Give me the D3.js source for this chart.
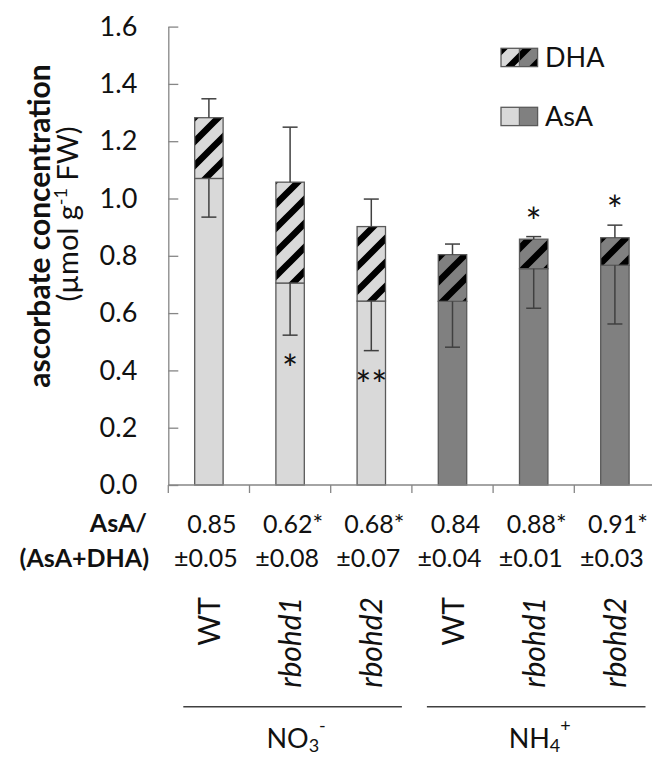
<!DOCTYPE html>
<html><head><meta charset="utf-8">
<script src="https://cdn.jsdelivr.net/npm/d3@7"></script>
<style>
html,body{margin:0;padding:0;background:#fff;}
svg{display:block;font-family:Lato,"Open Sans",sans-serif;}
</style></head>
<body><svg id="chart" width="652" height="758"></svg>
<script>
// ---------- data ----------
const categories = ["WT","rbohd1","rbohd2","WT","rbohd1","rbohd2"];
const italicCat  = [false,true,true,false,true,true];
const groups     = ["NO3-","NH4+"];
const groupOf    = [0,0,0,1,1,1];
const asaValues  = [1.07, 0.705, 0.642, 0.641, 0.755, 0.767];
const dhaValues  = [0.212, 0.352, 0.260, 0.163, 0.103, 0.096];
const asaErrDown = [0.135, 0.182, 0.173, 0.160, 0.138, 0.205];
const totErrUp   = [0.066, 0.192, 0.096, 0.037, 0.009, 0.044];
const ratioMean  = ["0.85","0.62*","0.68*","0.84","0.88*","0.91*"];
const ratioSd    = ["±0.05","±0.08","±0.07","±0.04","±0.01","±0.03"];
const sigBelow   = ["","*","**","","",""];
const sigAbove   = ["","","","","*","*"];
const yTicks     = [0,0.2,0.4,0.6,0.8,1.0,1.2,1.4,1.6];

const lightFill = "#d9d9d9", darkFill = "#808080";
const svg = d3.select("#chart");

const x = d3.scaleBand().domain(d3.range(categories.length)).range([168.3, 655.5]).padding(0);
const y = d3.scaleLinear().domain([0,1.6]).range([485, 26.6]);
const barW = x.bandwidth()*0.35;
const cx = i => x(i) + x.bandwidth()/2;
const fillOf = i => groupOf[i]===0 ? lightFill : darkFill;

// hatch patterns
const defs = svg.append("defs");
[["hatchL",lightFill],["hatchD",darkFill]].forEach(([id,bg])=>{
  const p = defs.append("pattern").attr("id",id).attr("patternUnits","userSpaceOnUse")
    .attr("width",24).attr("height",24);
  p.append("rect").attr("width",24).attr("height",24).attr("fill",bg);
  p.append("path").attr("d","M-6,30L30,-6M-18,18L18,-18M6,42L42,6")
    .attr("stroke","#000").attr("stroke-width",6.5);
});

// axes
const axisCol = "#868686";
const yAxis = d3.axisLeft(y).tickValues(yTicks).tickFormat(d3.format(".1f"))
  .tickSizeInner(-10).tickSizeOuter(0).tickPadding(31);
const gy = svg.append("g").attr("transform","translate(168.3,0)").call(yAxis);
gy.select(".domain").attr("stroke",axisCol).attr("stroke-width",1.3);
gy.selectAll(".tick line").attr("stroke",axisCol).attr("stroke-width",1.3);
gy.selectAll(".tick text").attr("font-size",27).attr("fill","#111").attr("font-family","Lato");

// bars
const bars = svg.append("g");
categories.forEach((c,i)=>{
  const x0 = cx(i)-barW/2;
  bars.append("rect").attr("x",x0).attr("width",barW)
    .attr("y",y(asaValues[i])).attr("height",y(0)-y(asaValues[i]))
    .attr("fill",fillOf(i)).attr("stroke","#5a5a5a").attr("stroke-width",1.3);
  const top = asaValues[i]+dhaValues[i];
  bars.append("rect").attr("x",x0).attr("width",barW)
    .attr("y",y(top)).attr("height",y(asaValues[i])-y(top))
    .attr("fill", groupOf[i]===0 ? "url(#hatchL)" : "url(#hatchD)")
    .attr("stroke","#5a5a5a").attr("stroke-width",1.3);
});

// x axis
const bounds = d3.range(categories.length).map(i=>x(i)).concat([x(categories.length-1)+x.bandwidth()]);
svg.append("line").attr("x1",x.range()[0]).attr("x2",x.range()[1]).attr("y1",y(0)).attr("y2",y(0))
  .attr("stroke",axisCol).attr("stroke-width",1.3);
svg.selectAll(".xt").data(bounds).enter().append("line")
  .attr("x1",d=>d).attr("x2",d=>d).attr("y1",y(0)).attr("y2",y(0)+8)
  .attr("stroke",axisCol).attr("stroke-width",1.3);

// error bars
const eg = svg.append("g").attr("stroke","#404040").attr("stroke-width",1.5);
categories.forEach((c,i)=>{
  const top = asaValues[i]+dhaValues[i];
  const xc = cx(i);
  eg.append("line").attr("x1",xc).attr("x2",xc).attr("y1",y(top)).attr("y2",y(top+totErrUp[i]));
  eg.append("line").attr("x1",xc-7.5).attr("x2",xc+7.5).attr("y1",y(top+totErrUp[i])).attr("y2",y(top+totErrUp[i]));
  const lo = asaValues[i]-asaErrDown[i];
  eg.append("line").attr("x1",xc).attr("x2",xc).attr("y1",y(asaValues[i])).attr("y2",y(lo));
  eg.append("line").attr("x1",xc-7.5).attr("x2",xc+7.5).attr("y1",y(lo)).attr("y2",y(lo));
});

// significance stars
categories.forEach((c,i)=>{
  if (sigBelow[i]) {
    svg.append("text").attr("x",cx(i)).attr("y",y(asaValues[i]-asaErrDown[i])+48)
      .attr("text-anchor","middle").attr("font-size",38).attr("fill","#111")
      .text(sigBelow[i]);
  }
  if (sigAbove[i]) {
    const top = asaValues[i]+dhaValues[i]+totErrUp[i];
    svg.append("text").attr("x",cx(i)).attr("y",y(top)-1)
      .attr("text-anchor","middle").attr("font-size",38).attr("fill","#111").text(sigAbove[i]);
  }
});

// legend
const legend = [["DHA",["url(#hatchL)","url(#hatchD)"]],["AsA",[lightFill,darkFill]]];
legend.forEach((d,k)=>{
  const ly = 48.3 + k*59;
  const g = svg.append("g");
  g.append("rect").attr("x",501).attr("y",ly).attr("width",18.3).attr("height",18.3).attr("fill",d[1][0]);
  g.append("rect").attr("x",519.3).attr("y",ly).attr("width",18.3).attr("height",18.3).attr("fill",d[1][1]);
  g.append("rect").attr("x",501).attr("y",ly).attr("width",36.6).attr("height",18.3)
    .attr("fill","none").attr("stroke","#5a5a5a").attr("stroke-width",1.3);
  g.append("line").attr("x1",519.3).attr("x2",519.3).attr("y1",ly).attr("y2",ly+18.3)
    .attr("stroke","#5a5a5a").attr("stroke-width",1);
  g.append("text").attr("x",545).attr("y",ly+18.3).attr("font-size",27).attr("fill","#111").text(d[0]);
});

// y-axis title
svg.append("text").attr("transform","translate(50,226) rotate(-90)").attr("text-anchor","middle")
  .attr("font-size",30).attr("font-weight","bold").attr("fill","#111").text("ascorbate concentration");
const t2 = svg.append("text").attr("transform","translate(78,214) rotate(-90)").attr("text-anchor","middle")
  .attr("font-size",29).attr("fill","#111");
t2.append("tspan").text("(µmol g");
t2.append("tspan").attr("font-size",18).attr("dy",-11).text("-1");
t2.append("tspan").attr("dy",11).text(" FW)");

// ratio row
svg.append("text").attr("x",147).attr("y",532).attr("text-anchor","end").attr("font-size",25)
  .attr("font-weight","bold").attr("fill","#111").text("AsA/");
svg.append("text").attr("x",149).attr("y",567).attr("text-anchor","end").attr("font-size",25)
  .attr("font-weight","bold").attr("fill","#111").text("(AsA+DHA)");
categories.forEach((c,i)=>{
  svg.append("text").attr("x",cx(i)+3).attr("y",533).attr("text-anchor","middle")
    .attr("font-size",25).attr("fill","#111").text(ratioMean[i]);
  svg.append("text").attr("x",cx(i)-3).attr("y",567).attr("text-anchor","middle")
    .attr("font-size",25).attr("fill","#111").text(ratioSd[i]);
});

// category labels
categories.forEach((c,i)=>{
  svg.append("text").attr("transform",`translate(${cx(i)+11},597) rotate(-90)`)
    .attr("text-anchor","end").attr("font-size",30).attr("fill","#111")
    .attr("font-style", italicCat[i] ? "italic" : "normal").text(c);
});

// group lines and labels
groups.forEach((g,k)=>{
  const idx = d3.range(categories.length).filter(i=>groupOf[i]===k);
  const x0 = x(idx[0]) + 15, x1 = x(idx[idx.length-1]) + x.bandwidth() - 10;
  svg.append("line").attr("x1",x0).attr("x2",x1).attr("y1",706.7).attr("y2",706.7)
    .attr("stroke","#404040").attr("stroke-width",1.5);
  const mid = (cx(idx[0])+cx(idx[idx.length-1]))/2 + 6;
  const t = svg.append("text").attr("x",mid).attr("y",748).attr("text-anchor","middle")
    .attr("font-size",27).attr("fill","#111");
  t.append("tspan").text(g.slice(0,2));
  t.append("tspan").attr("font-size",18).attr("dy",4).text(g.slice(2,3));
  t.append("tspan").attr("font-size",18).attr("dy",-20).text(g.slice(3));
});
</script></body></html>
